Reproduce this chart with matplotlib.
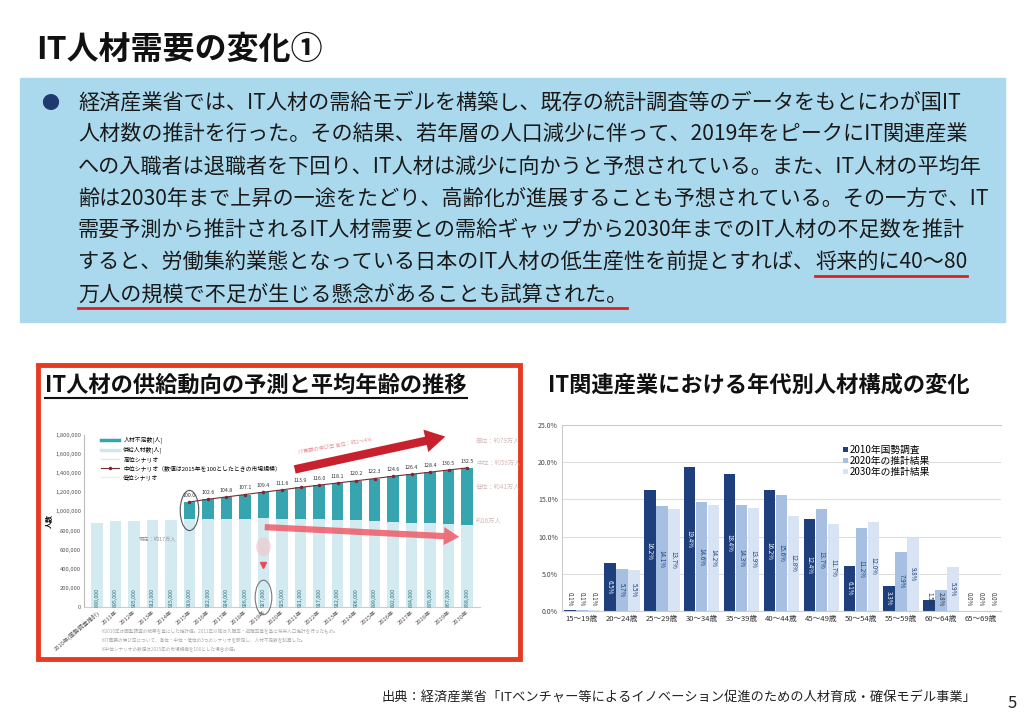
import matplotlib
matplotlib.use('Agg')
import matplotlib.pyplot as plt
from matplotlib.patches import Rectangle, Ellipse
from matplotlib.lines import Line2D
import numpy as np

plt.rcParams['font.family'] = ['Noto Sans CJK JP', 'DejaVu Sans']

W, H = 1024, 719

# --- data: left chart (IT人材の供給動向) ---
years = ['2010年(国勢調査推計)', '2011年', '2012年', '2013年', '2014年', '2015年',
         '2016年', '2017年', '2018年', '2019年', '2020年', '2021年', '2022年',
         '2023年', '2024年', '2025年', '2026年', '2027年', '2028年', '2029年',
         '2030年']
supply = [880000, 895000, 905000, 912000, 915000, 919000, 922000, 924000,
          926000, 927000, 925000, 921000, 917000, 912000, 906000, 899000,
          892000, 884000, 876000, 867000, 858000]
shortage = [0, 0, 0, 0, 0, 180000, 206000, 228000, 251000, 275000, 301000,
            331000, 358000, 386000, 415000, 445000, 477000, 505000, 535000,
            567000, 598000]
market_index = [100.0, 102.6, 104.8, 107.1, 109.4, 111.6, 113.9, 116.0, 118.1,
                120.2, 122.3, 124.6, 126.4, 128.4, 130.5, 132.5]

# --- data: right chart (年代別人材構成) ---
age_groups = ['15～19歳', '20～24歳', '25～29歳', '30～34歳', '35～39歳',
              '40～44歳', '45～49歳', '50～54歳', '55～59歳', '60～64歳',
              '65～69歳']
share_2010 = [0.1, 6.5, 16.2, 19.4, 18.4, 16.2, 12.4, 6.1, 3.3, 1.5, 0.0]
share_2020 = [0.1, 5.7, 14.1, 14.6, 14.3, 15.6, 13.7, 11.2, 7.9, 2.8, 0.0]
share_2030 = [0.1, 5.5, 13.7, 14.2, 13.9, 12.8, 11.7, 12.0, 9.8, 5.9, 0.0]
series_names = ['2010年国勢調査', '2020年の推計結果', '2030年の推計結果']

body_lines = [
    '経済産業省では、IT人材の需給モデルを構築し、既存の統計調査等のデータをもとにわが国IT',
    '人材数の推計を行った。その結果、若年層の人口減少に伴って、2019年をピークにIT関連産業',
    'への入職者は退職者を下回り、IT人材は減少に向かうと予想されている。また、IT人材の平均年',
    '齢は2030年まで上昇の一途をたどり、高齢化が進展することも予想されている。その一方で、IT',
    '需要予測から推計されるIT人材需要との需給ギャップから2030年までのIT人材の不足数を推計',
    'すると、労働集約業態となっている日本のIT人材の低生産性を前提とすれば、',
]
underlined = ['将来的に40～80', '万人の規模で不足が生じる懸念があることも試算された。']

BODY_FS = 15.2


def px_rect(x0, y0, x1, y1):
    return [x0 / W, 1 - y1 / H, (x1 - x0) / W, (y1 - y0) / H]


fig = plt.figure(figsize=(W / 100, H / 100), dpi=100)
bg = fig.add_axes([0, 0, 1, 1], zorder=0)
bg.set_xlim(0, W)
bg.set_ylim(H, 0)
bg.axis('off')

# title and text box
bg.text(36, 50, 'IT人材需要の変化①', fontsize=23, fontweight='bold',
        va='center', color='#111111')
bg.add_patch(Rectangle((20, 78), 985, 244, color='#aad9ed', zorder=1))
bg.text(50, 104, '●', fontsize=13, color='#1f3a6e', va='center', ha='center',
        zorder=2)

line_y = [103, 135, 167, 199, 231, 263, 295]
texts = []
for y, s in zip(line_y, body_lines):
    texts.append(bg.text(78, y, s, fontsize=BODY_FS, va='center',
                         color='#1a1a1a', zorder=2))
fig.canvas.draw()
renderer = fig.canvas.get_renderer()
end6 = texts[-1].get_window_extent(renderer).x1
t6 = bg.text(end6, line_y[5], underlined[0], fontsize=BODY_FS, va='center',
             color='#1a1a1a', zorder=2)
t7 = bg.text(78, line_y[6], underlined[1], fontsize=BODY_FS, va='center',
             color='#1a1a1a', zorder=2)
fig.canvas.draw()
for t, y in ((t6, line_y[5]), (t7, line_y[6])):
    bb = t.get_window_extent(renderer)
    bg.plot([bb.x0, bb.x1], [y + 13, y + 13], color='#e02020', lw=2, zorder=3)

# panel titles
lt = bg.text(45, 385, 'IT人材の供給動向の予測と平均年齢の推移', fontsize=16,
             fontweight='bold', va='center', color='#111111')
rt = bg.text(548, 385, 'IT関連産業における年代別人材構成の変化', fontsize=16,
             fontweight='bold', va='center', color='#111111')
fig.canvas.draw()
bb = lt.get_window_extent(renderer)
bg.plot([bb.x0, bb.x1], [398, 398], color='#111111', lw=1.5)
bg.add_patch(Rectangle((38, 365), 482, 294, fill=False, ec='#e63b22', lw=3.5,
                       zorder=5))

# footer
bg.text(976, 697, '出典：経済産業省「ITベンチャー等によるイノベーション促進のための人材育成・確保モデル事業」',
        fontsize=9.5, ha='right', va='center', color='#222222')
bg.text(1012, 704, '5', fontsize=12, ha='center', va='center', color='#222222')

# --- left chart ---
ax = fig.add_axes(px_rect(84, 435, 480, 607), zorder=2)
x = np.arange(len(years))
ax.bar(x, supply, width=0.62, color='#d3ebf0', zorder=2)
ax.bar(x, shortage, width=0.62, bottom=supply, color='#37a5b0', zorder=2)
for i, v in enumerate(supply):
    ax.text(i, 100000, f'{v:,}', rotation=90, fontsize=3.8, ha='center',
            va='center', color='#2b6f78', zorder=3)
demand = [s + d for s, d in zip(supply, shortage)][5:]
ax.plot(x[5:], demand, color='#7a2a35', lw=0.8, marker='o', ms=1.5, zorder=4)
for i, (d, v) in enumerate(zip(demand, market_index)):
    ax.text(i + 5, d + 45000, f'{v:.1f}', fontsize=3.8, ha='center',
            va='bottom', color='#333333', zorder=4,
            bbox=dict(boxstyle='square,pad=0.1', fc='white', ec='none', alpha=0.8))
ax.set_xlim(-0.7, 20.7)
ax.set_ylim(0, 1800000)
ax.set_yticks(np.arange(0, 1800001, 200000))
ax.set_yticklabels([f'{v:,}' for v in range(0, 1800001, 200000)],
                   fontsize=4.2, color='#555555')
ax.set_xticks(x)
ax.set_xticklabels(years, rotation=40, ha='right', fontsize=4.2,
                   color='#555555', rotation_mode='anchor')
ax.tick_params(length=0, pad=2)
ax.set_ylabel('人数', fontsize=5, labelpad=2, fontweight='bold')
for s in ('top', 'right'):
    ax.spines[s].set_visible(False)
ax.spines['left'].set_color('#bbbbbb')
ax.spines['bottom'].set_color('#cccccc')
ax.patch.set_alpha(0)
handles = [Line2D([], [], color='#37a5b0', lw=2.5),
           Line2D([], [], color='#cfe8ee', lw=2.5),
           Line2D([], [], color='#e8e8e8', lw=1),
           Line2D([], [], color='#7a2a35', lw=0.8, marker='o', ms=1.5),
           Line2D([], [], color='#eeeeee', lw=1)]
labels = ['人材不足数[人]', '供給人材数[人]', '高位シナリオ',
          '中位シナリオ（数値は2015年を100としたときの市場規模）', '低位シナリオ']
ax.legend(handles, labels, loc='upper left', bbox_to_anchor=(0.03, 1.02),
          fontsize=4.2, frameon=False, handlelength=3, labelspacing=0.55)
# circles around the 2015 shortage and the 2019 supply peak
ax.add_patch(Ellipse((5, 1010000), 1.0, 420000, fill=False, ec='#555555',
                     lw=0.8, zorder=5, clip_on=False))
ax.add_patch(Ellipse((9, 100000), 0.9, 360000, fill=False, ec='#777777',
                     lw=0.8, zorder=5, clip_on=False))
ax.add_patch(Ellipse((9, 630000), 0.8, 200000, color='#f2c4c8', alpha=0.6,
                     lw=0, zorder=5))
ax.plot([9], [440000], marker='v', ms=4, color='#e84a5a', zorder=5)

# --- right chart ---
ax2 = fig.add_axes(px_rect(562, 425, 1001, 611), zorder=2)
xr = np.arange(len(age_groups))
colors = ['#1e3f7c', '#a7c0e2', '#d8e4f3']
text_colors = ['white', '#1e3f7c', '#1e3f7c']
for k, (vals, c, tc, name) in enumerate(zip((share_2010, share_2020, share_2030),
                                           colors, text_colors, series_names)):
    pos = xr + (k - 1) * 0.3
    ax2.bar(pos, vals, width=0.29, color=c, label=name, zorder=2)
    for p, v in zip(pos, vals):
        yc = max(v / 2, 1.6)
        col = tc if v >= 3 else '#333333'
        ax2.text(p, yc, f'{v:.1f}%', rotation=270, fontsize=4.5, ha='center',
                 va='center', color=col, zorder=3)
ax2.set_xlim(-0.5, 10.5)
ax2.set_ylim(0, 25)
ax2.set_yticks(np.arange(0, 26, 5))
ax2.set_yticklabels([f'{v:.1f}%' for v in range(0, 26, 5)], fontsize=5,
                    color='#444444')
ax2.set_xticks(xr)
ax2.set_xticklabels(age_groups, fontsize=5.5, color='#333333')
ax2.tick_params(length=0, pad=3)
ax2.grid(axis='y', color='#dddddd', lw=0.8, zorder=0)
ax2.spines['right'].set_visible(False)
for s in ('left', 'top', 'bottom'):
    ax2.spines[s].set_color('#cccccc')
ax2.legend(loc='upper left', bbox_to_anchor=(0.62, 0.94), fontsize=7,
           frameon=False, handlelength=0.5, handleheight=0.5,
           handletextpad=0.2, labelspacing=0.1)

# --- overlay decorations on the left chart ---
fg = fig.add_axes([0, 0, 1, 1], zorder=4)
fg.set_xlim(0, W)
fg.set_ylim(H, 0)
fg.axis('off')
fg.annotate('', xy=(448, 436), xytext=(292, 470),
            arrowprops=dict(arrowstyle='simple,head_width=1.5,head_length=1.3,tail_width=0.55',
                            mutation_scale=11, color='#c8202c', lw=0))
fg.annotate('', xy=(462, 537), xytext=(262, 527),
            arrowprops=dict(arrowstyle='simple,head_width=1.3,head_length=1.1,tail_width=0.45',
                            mutation_scale=10, color='#ef5a68', alpha=0.85, lw=0))
fg.text(158, 540, '現在：約17万人', fontsize=3.8, ha='center', va='center',
        color='#999999')
fg.text(335, 446, 'IT需要の伸び率 高位：約2～4%', fontsize=3.8, rotation=10,
        ha='center', va='center', color='#e07a84', alpha=0.8)
for yy, s in ((441, '高位：約79万人'), (463, '中位：約59万人'),
              (487, '低位：約41万人'), (521, '約16万人')):
    fg.text(476, yy, s, fontsize=4.5, va='center', color='#c9a9a9', alpha=0.8)
notes = ['※2010年は国勢調査の結果を基にした推計値。2011年以降は入職率・退職率等を基に将来人口推計を行ったもの。',
         '※IT需要の伸び率について、高位・中位・低位の3つのシナリオを設定し、人材不足数を試算した。',
         '※中位シナリオの数値は2015年の市場規模を100とした場合の値。']
for i, s in enumerate(notes):
    fg.text(100, 632 + i * 9, s, fontsize=3.3, va='center', color='#aaaaaa')

fig.savefig('out.png', dpi=100)
